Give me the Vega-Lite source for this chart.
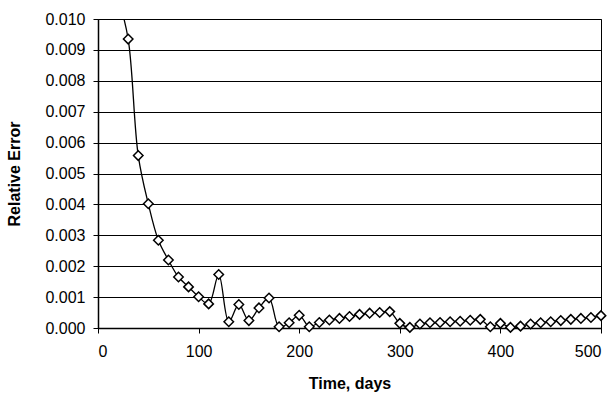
{
  "$schema": "https://vega.github.io/schema/vega-lite/v6.json",
  "width": 503,
  "height": 309,
  "autosize": {"type": "none"},
  "padding": {"left": 98, "top": 19, "right": 15, "bottom": 76},
  "background": "white",
  "config": {
    "view": {"stroke": "#000", "strokeWidth": 1},
    "font": "Liberation Sans",
    "axis": {
      "labelFont": "Liberation Sans",
      "titleFont": "Liberation Sans",
      "labelFontSize": 16,
      "titleFontSize": 16,
      "titleFontWeight": "bold",
      "labelColor": "#000",
      "titleColor": "#000",
      "domainColor": "#000",
      "tickColor": "#000",
      "gridColor": "#000",
      "gridOpacity": 1,
      "gridWidth": 1,
      "domainWidth": 1.5,
      "tickSize": 5
    }
  },
  "data": {
    "values": [
      {"day": 20, "err": 0.0107},
      {"day": 30, "err": 0.00935},
      {"day": 40, "err": 0.00558},
      {"day": 50, "err": 0.00402},
      {"day": 60, "err": 0.00284},
      {"day": 70, "err": 0.0022},
      {"day": 80, "err": 0.00165},
      {"day": 90, "err": 0.00133},
      {"day": 100, "err": 0.00101},
      {"day": 110, "err": 0.00078},
      {"day": 120, "err": 0.00173},
      {"day": 130, "err": 0.0002},
      {"day": 140, "err": 0.00076},
      {"day": 150, "err": 0.00024},
      {"day": 160, "err": 0.00065},
      {"day": 170, "err": 0.00097},
      {"day": 180, "err": 0.00004},
      {"day": 190, "err": 0.00017},
      {"day": 200, "err": 0.00041},
      {"day": 210, "err": 0.00004},
      {"day": 220, "err": 0.00018},
      {"day": 230, "err": 0.00026},
      {"day": 240, "err": 0.00031},
      {"day": 250, "err": 0.00037},
      {"day": 260, "err": 0.00044},
      {"day": 270, "err": 0.00048},
      {"day": 280, "err": 0.0005},
      {"day": 290, "err": 0.00053},
      {"day": 300, "err": 0.00015},
      {"day": 310, "err": 0.00002},
      {"day": 320, "err": 0.00013},
      {"day": 330, "err": 0.00017},
      {"day": 340, "err": 0.00018},
      {"day": 350, "err": 0.0002},
      {"day": 360, "err": 0.00022},
      {"day": 370, "err": 0.00025},
      {"day": 380, "err": 0.00028},
      {"day": 390, "err": 0.00004},
      {"day": 400, "err": 0.00015},
      {"day": 410, "err": 0.00002},
      {"day": 420, "err": 0.00006},
      {"day": 430, "err": 0.00013},
      {"day": 440, "err": 0.00017},
      {"day": 450, "err": 0.0002},
      {"day": 460, "err": 0.00024},
      {"day": 470, "err": 0.00028},
      {"day": 480, "err": 0.00031},
      {"day": 490, "err": 0.00034},
      {"day": 500, "err": 0.0004}
    ]
  },
  "encoding": {
    "x": {
      "field": "day",
      "type": "quantitative",
      "scale": {"domain": [0, 500], "nice": false},
      "axis": {
        "values": [0, 100, 200, 300, 400, 500],
        "title": "Time, days",
        "grid": false,
        "labelPadding": 10,
        "titlePadding": 16
      }
    },
    "y": {
      "field": "err",
      "type": "quantitative",
      "scale": {"domain": [0, 0.01], "nice": false},
      "axis": {
        "values": [0, 0.001, 0.002, 0.003, 0.004, 0.005, 0.006, 0.007, 0.008, 0.009, 0.01],
        "format": ".3f",
        "title": "Relative Error",
        "grid": true,
        "labelPadding": 8,
        "titlePadding": 22
      }
    }
  },
  "layer": [
    {
      "mark": {"type": "line", "interpolate": "catmull-rom", "color": "#000", "strokeWidth": 1.3, "clip": true}
    },
    {
      "transform": [{"filter": "datum.err <= 0.01"}],
      "mark": {"type": "point", "shape": "diamond", "size": 90, "filled": true, "fill": "#fff", "stroke": "#000", "strokeWidth": 1.5, "opacity": 1}
    }
  ]
}
